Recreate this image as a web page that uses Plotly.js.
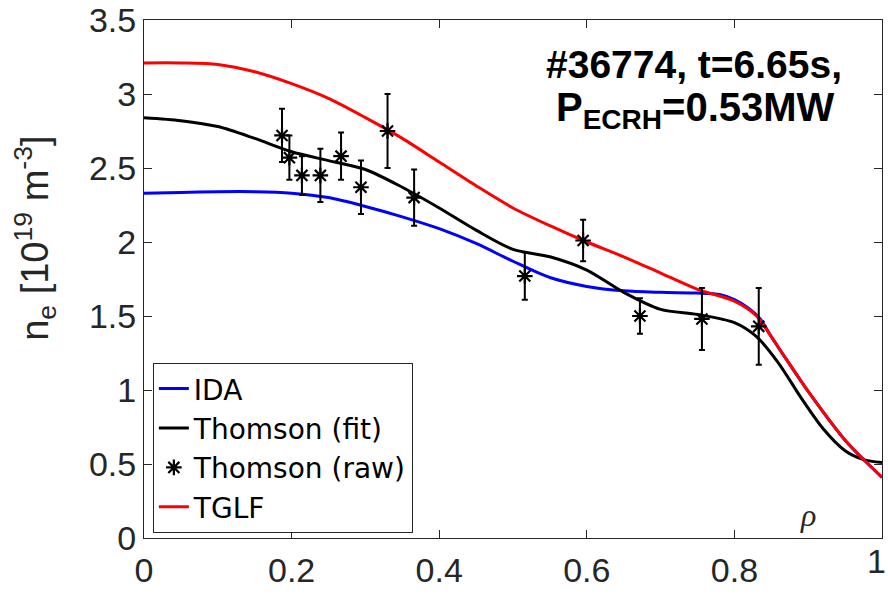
<!DOCTYPE html>
<html>
<head>
<meta charset="utf-8">
<script src="https://cdn.plot.ly/plotly-3.0.1.min.js"></script>
<style>html,body{margin:0;padding:0;background:#fff;}#chart{width:888px;height:595px;}</style>
</head>
<body>
<div id="chart"></div>
<script>
// TGLF profile
const rhoTGLF = [0, 0.05, 0.1, 0.15, 0.2, 0.25, 0.3, 0.35, 0.4, 0.45, 0.5, 0.55, 0.6, 0.65, 0.7, 0.75, 0.8, 0.83, 0.85, 0.87, 0.9, 0.95, 0.975, 1.0];
const neTGLF  = [3.21, 3.21, 3.20, 3.15, 3.07, 2.97, 2.84, 2.70, 2.54, 2.38, 2.23, 2.11, 2.00, 1.90, 1.79, 1.68, 1.60, 1.50, 1.36, 1.21, 0.99, 0.66, 0.53, 0.41];
// IDA profile
const rhoIDA = [0, 0.05, 0.1, 0.15, 0.2, 0.25, 0.3, 0.35, 0.4, 0.45, 0.5, 0.55, 0.6, 0.65, 0.7, 0.75, 0.78, 0.8, 0.82, 0.835, 0.85, 0.87, 0.9, 0.95, 0.975, 1.0];
const neIDA  = [2.33, 2.335, 2.34, 2.34, 2.33, 2.30, 2.24, 2.17, 2.09, 1.99, 1.87, 1.76, 1.70, 1.67, 1.66, 1.655, 1.645, 1.61, 1.55, 1.48, 1.36, 1.21, 0.99, 0.66, 0.53, 0.41];
// Thomson fit
const rhoFit = [0, 0.05, 0.1, 0.15, 0.2, 0.25, 0.3, 0.35, 0.4, 0.45, 0.5, 0.55, 0.6, 0.65, 0.7, 0.75, 0.8, 0.83, 0.86, 0.89, 0.92, 0.95, 0.975, 1.0];
const neFit  = [2.84, 2.82, 2.78, 2.70, 2.61, 2.55, 2.49, 2.37, 2.23, 2.08, 1.95, 1.90, 1.81, 1.66, 1.545, 1.51, 1.455, 1.36, 1.18, 0.95, 0.74, 0.59, 0.53, 0.51];
// Thomson raw
const rhoRaw = [0.187, 0.197, 0.214, 0.239, 0.267, 0.294, 0.330, 0.366, 0.516, 0.595, 0.672, 0.756, 0.833];
const neRaw  = [2.72, 2.57, 2.45, 2.45, 2.58, 2.37, 2.75, 2.30, 1.77, 2.01, 1.50, 1.48, 1.43];
const errRaw = [0.18, 0.15, 0.13, 0.18, 0.16, 0.18, 0.25, 0.19, 0.16, 0.14, 0.12, 0.21, 0.26];
// axis ticks
const xTicks = [0, 0.2, 0.4, 0.6, 0.8, 1];
const xTickText = ['0', '0.2', '0.4', '0.6', '0.8', ''];
const yTicks = [0, 0.5, 1, 1.5, 2, 2.5, 3, 3.5];
const yTickText = ['0', '0.5', '1', '1.5', '2', '2.5', '3', '3.5'];

const axisColor = '#262626';
const fontFam = '"Liberation Sans", Arial, Helvetica, sans-serif';

const traces = [
  {x: rhoIDA, y: neIDA, mode: 'lines', name: 'IDA', line: {color: '#0000ff', width: 3, shape: 'spline', smoothing: 0.8}, legendrank: 1},
  {x: rhoFit, y: neFit, mode: 'lines', name: 'Thomson (fit)', line: {color: '#000000', width: 3, shape: 'spline', smoothing: 0.8}, legendrank: 2},
  {x: rhoTGLF, y: neTGLF, mode: 'lines', name: 'TGLF', line: {color: '#ff0000', width: 3, shape: 'spline', smoothing: 0.8}, legendrank: 4},
  {x: rhoRaw, y: neRaw, mode: 'markers', name: 'Thomson (raw)',
   marker: {symbol: 'asterisk-open', size: 13, color: '#000', line: {color: '#000', width: 2.2}},
   error_y: {type: 'data', array: errRaw, visible: true, color: '#000', thickness: 2, width: 3},
   legendrank: 3}
];

const layout = {
  width: 888, height: 595,
  margin: {l: 144, r: 6, t: 20, b: 57},
  paper_bgcolor: '#fff', plot_bgcolor: '#fff',
  font: {family: fontFam, color: axisColor},
  showlegend: true,
  legend: {
    x: 0.012, y: 0.338, xanchor: 'left', yanchor: 'top',
    bgcolor: '#fff', bordercolor: axisColor, borderwidth: 1,
    font: {family: '"DejaVu Sans", "Liberation Sans", Arial, sans-serif', size: 28, color: '#000'},
    itemwidth: 30, tracegroupgap: 0
  },
  xaxis: {
    range: [0, 1], tickvals: xTicks, ticktext: xTickText,
    showgrid: false, zeroline: false, showline: true, linecolor: axisColor, linewidth: 1,
    mirror: 'ticks', ticks: 'inside', ticklen: 8, tickcolor: axisColor,
    ticklabelstandoff: 2,
    tickfont: {size: 34, color: axisColor, family: fontFam}
  },
  yaxis: {
    range: [0, 3.5], tickvals: yTicks, ticktext: yTickText,
    showgrid: false, zeroline: false, showline: true, linecolor: axisColor, linewidth: 1,
    mirror: 'ticks', ticks: 'inside', ticklen: 8, tickcolor: axisColor,
    tickfont: {size: 34, color: axisColor, family: fontFam}
  },
  annotations: [
    {xref: 'x', yref: 'paper', x: xTicks[5], y: 0, xanchor: 'right', yanchor: 'top', xshift: 6, yshift: -2, showarrow: false,
     text: '1', font: {size: 34, color: axisColor, family: fontFam}},
    {xref: 'paper', yref: 'paper', x: -0.148, y: 0.579, xanchor: 'center', yanchor: 'middle', showarrow: false, textangle: -90,
     text: 'n<sub>e</sub> [10<sup>19</sup> m<sup>-3</sup>]', font: {size: 38, color: axisColor, family: fontFam}},
    {xref: 'paper', yref: 'paper', x: 0.745, y: 0.915, xanchor: 'center', yanchor: 'middle', showarrow: false,
     text: '<b>#36774, t=6.65s,</b>', font: {size: 39, color: '#000', family: fontFam}},
    {xref: 'paper', yref: 'paper', x: 0.747, y: 0.826, xanchor: 'center', yanchor: 'middle', showarrow: false,
     text: '<b>P<sub>ECRH</sub>=0.53MW</b>', font: {size: 40, color: '#000', family: fontFam}},
    {xref: 'paper', yref: 'paper', x: 0.9, y: 0.045, xanchor: 'center', yanchor: 'middle', showarrow: false,
     text: '<i>ρ</i>', font: {size: 32, color: axisColor, family: '"Liberation Serif", "Times New Roman", serif'}}
  ]
};

Plotly.newPlot('chart', traces, layout, {displayModeBar: false, staticPlot: true});
</script>
</body>
</html>
